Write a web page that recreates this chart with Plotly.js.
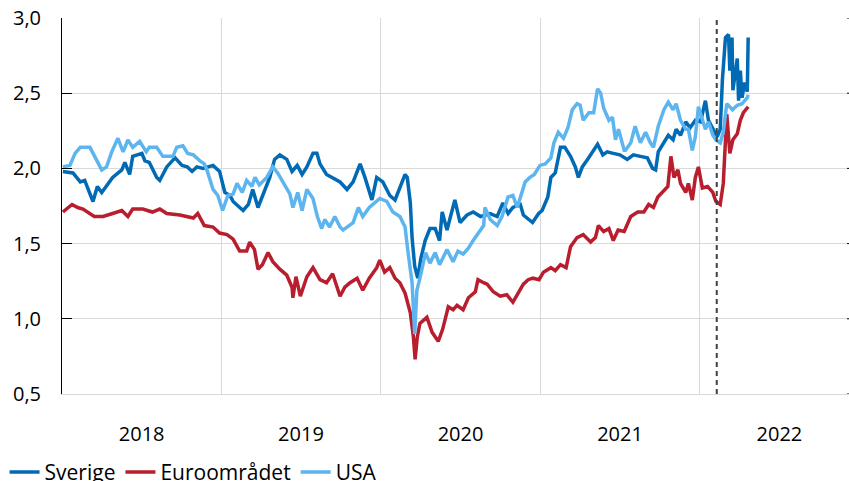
<!DOCTYPE html>
<html>
<head>
<meta charset="utf-8">
<script src="https://cdn.plot.ly/plotly-3.0.1.min.js"></script>
<style>html,body{margin:0;padding:0;background:#fff;overflow:hidden;width:849px;height:481px;}#chart{width:849px;height:495px;}</style>
</head>
<body>
<div id="chart"></div>
<script>
const seriesNames = ["Sverige", "Euroområdet", "USA"];
const seriesColors = ["#006AB4", "#B81E2D", "#5DB5F0"];

const sverigeDates = ["2018-01-03","2018-01-26","2018-02-12","2018-02-22","2018-03-13","2018-03-23","2018-04-02","2018-04-13","2018-04-27","2018-05-18","2018-05-25","2018-06-05","2018-06-12","2018-07-03","2018-07-10","2018-07-20","2018-08-06","2018-08-13","2018-08-29","2018-09-17","2018-10-03","2018-10-15","2018-10-26","2018-11-06","2018-11-20","2018-12-13","2018-12-28","2019-01-09","2019-01-21","2019-01-28","2019-02-20","2019-03-04","2019-03-14","2019-03-26","2019-04-05","2019-04-22","2019-05-03","2019-05-15","2019-05-31","2019-06-12","2019-06-24","2019-07-05","2019-07-16","2019-07-30","2019-08-08","2019-08-15","2019-08-30","2019-09-13","2019-09-30","2019-10-16","2019-10-30","2019-11-15","2019-11-26","2019-12-12","2019-12-23","2020-01-06","2020-01-22","2020-02-03","2020-02-19","2020-02-26","2020-03-02","2020-03-09","2020-03-13","2020-03-19","2020-03-26","2020-04-02","2020-04-12","2020-04-23","2020-05-05","2020-05-15","2020-05-21","2020-06-01","2020-06-19","2020-07-01","2020-07-17","2020-07-31","2020-08-17","2020-09-08","2020-09-24","2020-10-07","2020-10-19","2020-10-30","2020-11-16","2020-11-23","2020-12-14","2020-12-28","2021-01-05","2021-01-18","2021-01-25","2021-02-04","2021-02-16","2021-02-26","2021-03-11","2021-03-22","2021-03-29","2021-04-07","2021-04-19","2021-05-03","2021-05-12","2021-05-24","2021-06-03","2021-06-17","2021-07-02","2021-07-19","2021-08-02","2021-08-18","2021-09-03","2021-09-15","2021-09-22","2021-09-28","2021-10-11","2021-10-21","2021-11-01","2021-11-08","2021-11-18","2021-11-30","2021-12-10","2021-12-22","2022-01-03","2022-01-14","2022-01-21","2022-01-31","2022-02-10","2022-02-17","2022-02-22","2022-03-01","2022-03-08","2022-03-11","2022-03-16","2022-03-18","2022-03-28","2022-03-31","2022-04-04","2022-04-08","2022-04-14","2022-04-20","2022-04-22"];
const sverigeValues = [1.98,1.97,1.91,1.92,1.78,1.88,1.84,1.88,1.94,1.99,2.04,1.96,2.08,2.10,2.05,2.04,1.94,1.92,2.01,2.07,2.02,2.01,1.98,2.01,2.00,2.02,1.98,1.84,1.82,1.78,1.72,1.76,1.86,1.74,1.81,1.94,2.06,2.09,2.06,1.98,2.02,1.96,2.01,2.10,2.10,2.03,1.96,1.94,1.91,1.86,1.91,2.03,1.94,1.79,1.94,1.91,1.82,1.79,1.91,1.96,1.94,1.77,1.54,1.35,1.27,1.40,1.52,1.60,1.60,1.52,1.71,1.59,1.79,1.64,1.69,1.71,1.68,1.70,1.68,1.77,1.70,1.74,1.76,1.69,1.64,1.70,1.72,1.81,1.94,1.97,2.14,2.14,2.08,2.01,1.94,2.01,2.06,2.12,2.16,2.09,2.11,2.10,2.09,2.06,2.09,2.08,2.07,2.00,1.99,2.11,2.17,2.22,2.19,2.26,2.22,2.31,2.27,2.32,2.31,2.45,2.32,2.27,2.21,2.26,2.59,2.87,2.89,2.65,2.87,2.52,2.73,2.45,2.65,2.47,2.57,2.51,2.87];

const euroDates = ["2018-01-03","2018-01-24","2018-02-06","2018-02-18","2018-03-16","2018-04-05","2018-04-27","2018-05-18","2018-06-01","2018-06-12","2018-07-05","2018-07-27","2018-08-13","2018-08-29","2018-09-28","2018-10-29","2018-11-08","2018-11-23","2018-12-13","2018-12-28","2019-01-14","2019-01-28","2019-02-12","2019-02-28","2019-03-07","2019-03-18","2019-03-26","2019-04-05","2019-04-18","2019-04-29","2019-05-15","2019-05-31","2019-06-12","2019-06-14","2019-06-21","2019-07-01","2019-07-16","2019-07-30","2019-08-15","2019-08-30","2019-09-13","2019-09-30","2019-10-11","2019-10-23","2019-11-08","2019-11-21","2019-12-06","2019-12-23","2019-12-30","2020-01-10","2020-01-22","2020-02-03","2020-02-14","2020-02-26","2020-03-09","2020-03-16","2020-03-20","2020-03-25","2020-03-31","2020-04-16","2020-04-28","2020-05-12","2020-05-22","2020-06-04","2020-06-15","2020-06-24","2020-07-08","2020-07-20","2020-08-05","2020-08-11","2020-08-24","2020-09-01","2020-09-15","2020-10-01","2020-10-16","2020-10-30","2020-11-11","2020-11-23","2020-12-04","2020-12-15","2020-12-29","2021-01-08","2021-01-25","2021-02-04","2021-02-16","2021-03-01","2021-03-11","2021-03-26","2021-04-09","2021-04-26","2021-05-07","2021-05-14","2021-05-26","2021-06-07","2021-06-17","2021-06-28","2021-07-12","2021-07-27","2021-08-12","2021-08-26","2021-09-06","2021-09-17","2021-09-27","2021-10-08","2021-10-20","2021-10-27","2021-11-03","2021-11-12","2021-11-18","2021-11-30","2021-12-06","2021-12-15","2021-12-22","2021-12-29","2022-01-07","2022-01-19","2022-01-31","2022-02-07","2022-02-17","2022-02-24","2022-03-04","2022-03-11","2022-03-18","2022-03-28","2022-04-04","2022-04-11","2022-04-22"];
const euroValues = [1.71,1.76,1.74,1.73,1.68,1.68,1.70,1.72,1.68,1.73,1.73,1.71,1.73,1.70,1.69,1.67,1.70,1.62,1.61,1.57,1.56,1.53,1.45,1.45,1.51,1.46,1.33,1.36,1.44,1.38,1.33,1.29,1.21,1.14,1.28,1.15,1.28,1.34,1.26,1.24,1.30,1.15,1.21,1.24,1.27,1.19,1.27,1.34,1.39,1.31,1.34,1.27,1.24,1.17,1.04,0.88,0.73,0.88,0.97,1.01,0.91,0.85,0.93,1.08,1.06,1.09,1.06,1.14,1.18,1.26,1.24,1.23,1.18,1.15,1.16,1.11,1.17,1.23,1.26,1.27,1.26,1.31,1.34,1.32,1.36,1.34,1.48,1.54,1.56,1.51,1.54,1.62,1.58,1.60,1.52,1.59,1.58,1.68,1.71,1.71,1.76,1.74,1.81,1.84,1.88,2.08,1.94,1.99,1.90,1.84,1.90,1.79,1.94,2.01,1.87,1.88,1.84,1.78,1.76,1.90,2.36,2.10,2.19,2.23,2.32,2.37,2.41];

const usaDates = ["2018-01-03","2018-01-19","2018-01-31","2018-02-12","2018-03-06","2018-03-16","2018-04-02","2018-04-13","2018-04-25","2018-05-09","2018-05-21","2018-06-01","2018-06-12","2018-06-28","2018-07-13","2018-07-20","2018-08-06","2018-08-20","2018-09-12","2018-09-21","2018-10-05","2018-10-16","2018-10-29","2018-11-13","2018-11-23","2018-11-29","2018-12-13","2018-12-24","2019-01-04","2019-01-16","2019-01-28","2019-02-06","2019-02-18","2019-02-28","2019-03-12","2019-03-19","2019-03-29","2019-04-15","2019-04-29","2019-05-10","2019-05-22","2019-06-07","2019-06-14","2019-06-25","2019-07-05","2019-07-16","2019-07-30","2019-08-09","2019-08-19","2019-08-26","2019-09-06","2019-09-18","2019-09-30","2019-10-07","2019-10-16","2019-10-30","2019-11-11","2019-11-21","2019-12-06","2019-12-19","2019-12-30","2020-01-15","2020-01-29","2020-02-14","2020-02-26","2020-03-03","2020-03-13","2020-03-19","2020-03-24","2020-03-31","2020-04-13","2020-04-23","2020-05-05","2020-05-15","2020-06-01","2020-06-15","2020-06-26","2020-07-08","2020-07-20","2020-07-31","2020-08-11","2020-08-24","2020-08-27","2020-09-08","2020-09-24","2020-10-05","2020-10-19","2020-10-30","2020-11-09","2020-11-16","2020-11-27","2020-12-08","2020-12-18","2020-12-31","2021-01-12","2021-01-25","2021-02-01","2021-02-11","2021-02-23","2021-03-05","2021-03-15","2021-03-26","2021-04-02","2021-04-09","2021-04-22","2021-05-03","2021-05-12","2021-05-19","2021-05-26","2021-06-07","2021-06-15","2021-06-22","2021-06-29","2021-07-12","2021-07-15","2021-07-27","2021-08-06","2021-08-18","2021-08-30","2021-09-10","2021-09-17","2021-09-28","2021-10-11","2021-10-21","2021-11-01","2021-11-08","2021-11-18","2021-11-30","2021-12-06","2021-12-15","2021-12-22","2021-12-29","2022-01-07","2022-01-14","2022-01-21","2022-01-31","2022-02-07","2022-02-17","2022-02-24","2022-03-04","2022-03-17","2022-03-28","2022-04-08","2022-04-20","2022-04-22"];
const usaValues = [2.01,2.02,2.10,2.14,2.14,2.08,1.99,2.01,2.11,2.20,2.11,2.19,2.14,2.18,2.11,2.14,2.14,2.08,2.08,2.14,2.15,2.10,2.09,2.05,2.03,1.99,1.86,1.82,1.72,1.82,1.83,1.90,1.84,1.92,1.88,1.94,1.89,1.94,2.01,1.97,1.91,1.83,1.74,1.84,1.72,1.86,1.80,1.68,1.60,1.66,1.61,1.68,1.61,1.59,1.61,1.64,1.74,1.68,1.74,1.77,1.80,1.78,1.71,1.68,1.61,1.46,1.24,0.90,1.19,1.27,1.44,1.37,1.44,1.36,1.46,1.38,1.45,1.43,1.47,1.52,1.57,1.62,1.74,1.66,1.62,1.68,1.81,1.82,1.74,1.81,1.91,1.94,1.96,2.02,2.03,2.07,2.17,2.24,2.20,2.27,2.39,2.43,2.42,2.32,2.37,2.37,2.53,2.50,2.40,2.32,2.34,2.19,2.26,2.12,2.12,2.17,2.28,2.17,2.24,2.17,2.14,2.28,2.39,2.44,2.39,2.43,2.32,2.26,2.26,2.12,2.21,2.41,2.32,2.26,2.31,2.22,2.19,2.17,2.24,2.43,2.39,2.42,2.43,2.47,2.49];

const markerDate = "2022-02-09";
const yTickValues = [0.5, 1.0, 1.5, 2.0, 2.5, 3.0];
const xRange = ["2018-01-01", "2022-12-09"];
const yRange = [0.5, 3.0];

const allDates = [sverigeDates, euroDates, usaDates];
const allValues = [sverigeValues, euroValues, usaValues];

const traces = seriesNames.map((name, i) => ({
  type: "scatter",
  mode: "lines",
  name: name,
  x: allDates[i],
  y: allValues[i],
  line: {color: seriesColors[i], width: 3.5},
  hoverinfo: "skip"
}));

const shapes = [{
  type: "line", xref: "x", yref: "paper",
  x0: markerDate, x1: markerDate, y0: 0, y1: 1,
  line: {color: "#404040", width: 2, dash: "5px,4px"}
}];
yTickValues.forEach(v => shapes.push({
  type: "line", xref: "paper", yref: "y",
  x0: 0.9975, x1: 1, y0: v, y1: v,
  line: {color: "#000", width: 1}
}));

const layout = {
  width: 849, height: 495,
  margin: {l: 62, r: 0, t: 18, b: 101},
  paper_bgcolor: "#fff", plot_bgcolor: "#fff",
  separators: ", ",
  font: {family: "Open Sans, sans-serif", size: 20, color: "#000"},
  showlegend: true,
  xaxis: {
    type: "date", range: xRange,
    tick0: "2018-01-01", dtick: "M12", ticklabelmode: "period", tickformat: "%Y",
    showgrid: true, gridcolor: "#d9d9d9", gridwidth: 1,
    ticks: "", showline: true, linecolor: "#d9d9d9", linewidth: 1,
    zeroline: false, ticklabelstandoff: 22,
    tickfont: {size: 20}
  },
  yaxis: {
    range: yRange, tickvals: yTickValues, tickformat: ".1f",
    showgrid: true, gridcolor: "#d9d9d9", gridwidth: 1,
    ticks: "inside", ticklen: 10, tickcolor: "#000", tickwidth: 1,
    showline: true, linecolor: "#000", linewidth: 1,
    zeroline: false, ticklabelstandoff: 16,
    tickfont: {size: 20}
  },
  legend: {
    orientation: "h", x: -0.073, xanchor: "left", y: -0.154, yanchor: "top",
    font: {size: 21}, bgcolor: "rgba(0,0,0,0)", itemwidth: 30, tracegroupgap: 0
  },
  shapes: shapes
};

Plotly.newPlot("chart", traces, layout, {staticPlot: true, displayModeBar: false});
</script>
</body>
</html>
